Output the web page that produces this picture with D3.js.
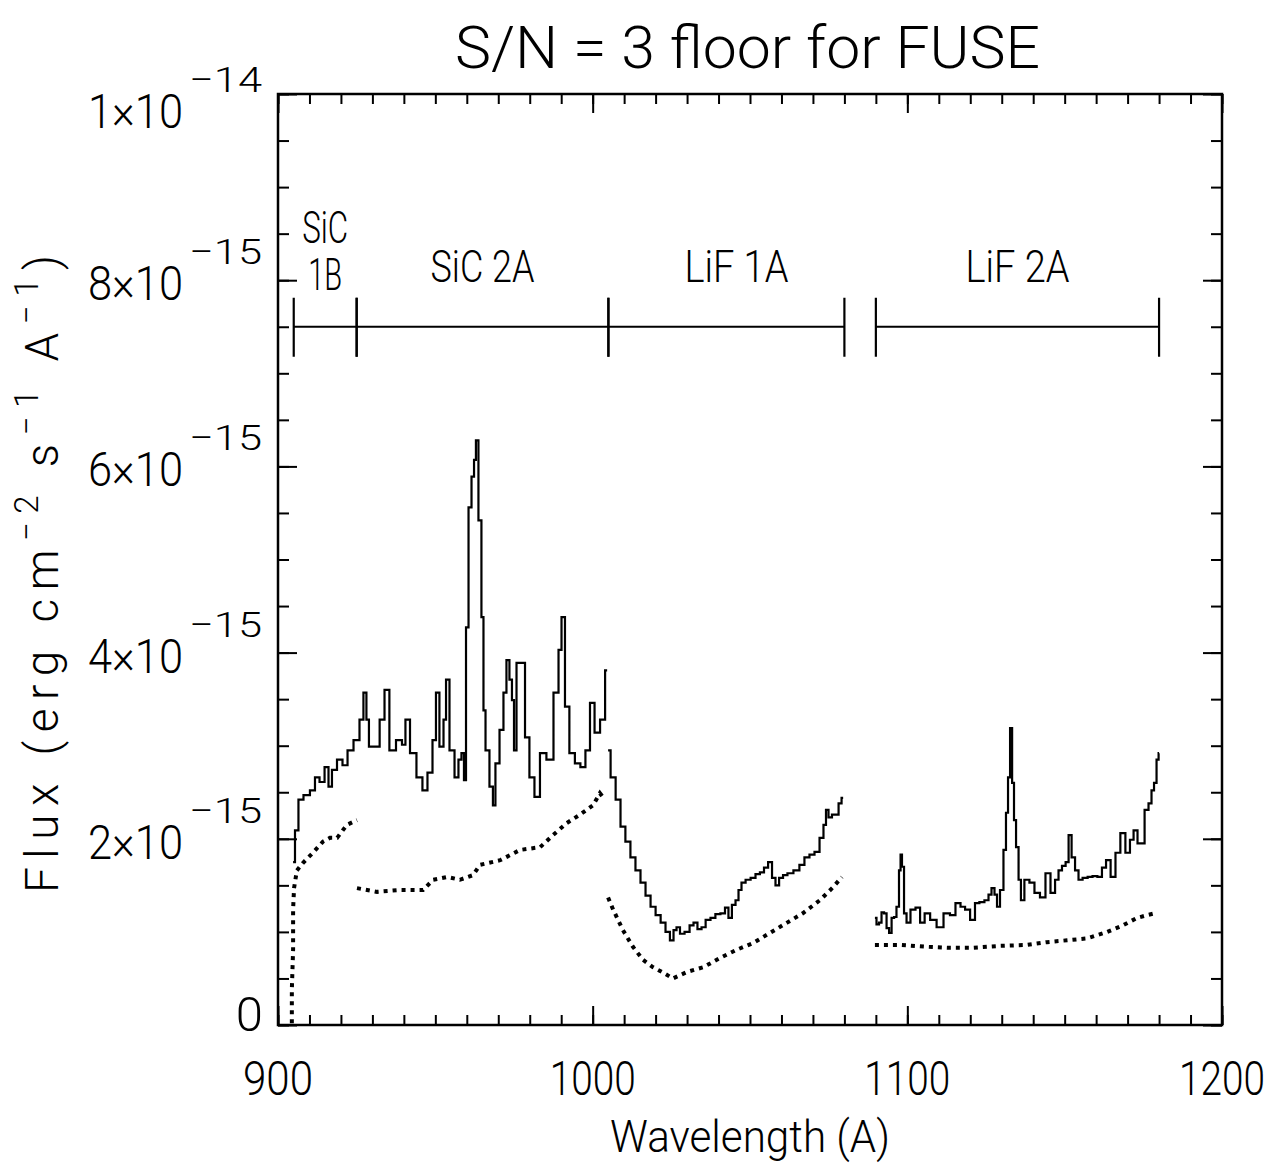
<!DOCTYPE html>
<html>
<head>
<meta charset="utf-8">
<script src="https://cdn.jsdelivr.net/npm/d3@7"></script>
<style>
  body { margin: 0; background: #fff; }
  svg text { font-family: Roboto, "Liberation Sans", sans-serif; font-weight: 300; fill: #000; }
</style>
</head>
<body>
<svg id="chart" width="1271" height="1165"></svg>
<script>
// Flux values are in units of 1e-15 erg cm^-2 s^-1 A^-1

// solid spectrum, SiC 1B + SiC 2A
var sicWave = [904.8, 906.0, 907.0, 909.2, 911.1, 912.4, 914.0, 915.6, 916.5, 917.8, 919.7, 921.3, 922.9, 925.1,
    926.7, 927.6, 928.6, 929.2, 931.5, 933.1, 934.6, 936.2, 938.8, 940.0, 941.0, 942.9, 945.1, 946.7, 948.3,
    949.9, 950.5, 952.1, 953.1, 953.7, 955.3, 956.9, 957.8, 958.8, 959.4, 960.1, 961.0, 962.0, 962.6, 963.2,
    964.2, 965.1, 965.5, 966.4, 968.0, 968.6, 969.6, 971.2, 972.1, 973.1, 974.0, 974.7, 975.3, 976.3, 977.9,
    979.1, 980.7, 982.3, 984.2, 986.4, 988.7, 989.6, 990.6, 991.8, 993.4, 995.3, 996.9, 998.5, 999.8, 1001.4,
    1003.3, 1004.6];
var sicFlux = [1.75, 2.09, 2.42, 2.47, 2.52, 2.66, 2.61, 2.77, 2.56, 2.74, 2.85, 2.79, 2.95, 3.06,
    3.28, 3.57, 3.28, 2.99, 2.99, 3.28, 3.60, 2.95, 3.06, 3.01, 3.28, 2.92, 2.66, 2.52, 2.71,
    3.06, 3.57, 2.99, 3.28, 3.71, 2.95, 2.66, 2.85, 2.92, 2.63, 4.27, 5.56, 5.89, 6.07, 6.28,
    5.42, 4.38, 3.38, 2.95, 2.56, 2.36, 2.81, 3.17, 3.57, 3.92, 3.71, 3.49, 2.95, 3.89, 3.89,
    3.09, 2.66, 2.45, 2.92, 2.85, 3.57, 4.03, 4.38, 3.42, 2.92, 2.81, 2.77, 2.95, 3.46, 3.14,
    3.28, 3.81];

// solid spectrum, LiF 1A
var lif1Wave = [1004.9, 1006.5, 1008.1, 1009.6, 1011.2, 1012.8, 1014.4, 1016.0, 1017.6, 1019.2, 1020.8, 1022.4,
    1023.9, 1025.2, 1026.2, 1027.1, 1028.4, 1030.0, 1031.6, 1032.5, 1034.1, 1035.1, 1036.7, 1038.2, 1039.8,
    1041.4, 1042.7, 1043.6, 1044.9, 1045.9, 1046.8, 1047.8, 1049.4, 1051.0, 1052.5, 1053.8, 1055.1, 1056.4,
    1057.6, 1058.6, 1059.9, 1061.1, 1062.7, 1064.9, 1066.5, 1068.1, 1069.7, 1071.3, 1072.9, 1073.8, 1074.5,
    1075.4, 1076.7, 1077.7, 1078.6, 1079.6];
var lif1Flux = [2.95, 2.66, 2.42, 2.13, 1.97, 1.80, 1.66, 1.53, 1.39, 1.27, 1.18, 1.10,
    1.00, 0.91, 1.02, 1.05, 0.98, 1.00, 1.07, 1.10, 1.03, 1.05, 1.13, 1.15, 1.19,
    1.20, 1.26, 1.15, 1.29, 1.34, 1.45, 1.53, 1.56, 1.58, 1.62, 1.64, 1.69, 1.75,
    1.58, 1.50, 1.58, 1.61, 1.63, 1.66, 1.72, 1.80, 1.83, 1.86, 2.01, 2.15, 2.31,
    2.23, 2.26, 2.26, 2.38, 2.44];

// solid spectrum, LiF 2A
var lif2Wave = [1089.7, 1090.7, 1091.3, 1092.3, 1092.9, 1093.9, 1094.5, 1095.5, 1096.1, 1097.0, 1097.7, 1098.0,
    1098.6, 1099.3, 1100.2, 1101.8, 1103.4, 1104.7, 1106.3, 1108.2, 1110.4, 1112.6, 1114.5, 1116.1, 1117.7,
    1119.0, 1120.9, 1122.1, 1123.7, 1125.3, 1126.3, 1127.2, 1128.2, 1128.8, 1130.1, 1131.0, 1131.7, 1132.3,
    1133.0, 1133.6, 1134.2, 1134.9, 1135.8, 1136.4, 1138.0, 1139.6, 1141.2, 1143.1, 1144.7, 1146.3, 1147.6,
    1148.5, 1149.8, 1150.8, 1151.7, 1152.7, 1153.9, 1154.9, 1156.5, 1158.1, 1159.6, 1161.2, 1162.5, 1163.8,
    1165.4, 1166.9, 1168.5, 1170.1, 1171.4, 1172.4, 1173.9, 1174.6, 1176.2, 1177.1, 1178.1, 1178.7, 1179.7,
    1180.0];
var lif2Flux = [1.15, 1.08, 1.10, 1.21, 1.20, 1.04, 0.99, 1.15, 1.16, 1.27, 1.66, 1.83,
    1.70, 1.20, 1.10, 1.24, 1.26, 1.10, 1.20, 1.13, 1.05, 1.20, 1.18, 1.31, 1.27,
    1.24, 1.13, 1.31, 1.32, 1.34, 1.40, 1.47, 1.40, 1.27, 1.45, 1.88, 2.28, 2.66,
    3.19, 2.60, 2.20, 1.91, 1.56, 1.34, 1.56, 1.53, 1.42, 1.37, 1.63, 1.42, 1.56,
    1.66, 1.71, 1.75, 2.04, 1.80, 1.66, 1.56, 1.58, 1.59, 1.60, 1.59, 1.69, 1.77,
    1.59, 1.85, 2.06, 1.85, 1.99, 2.09, 1.95, 1.95, 2.31, 2.38, 2.52, 2.60, 2.85,
    2.92];

// S/N = 3 floor (dotted), one list per channel
var floor1BWave = [904.4, 904.4, 904.8, 904.8, 905.1, 906.0, 907.9, 911.1, 914.3, 916.5, 918.8, 921.9, 925.1];
var floor1BFlux = [0.02, 0.38, 0.81, 1.24, 1.47, 1.66, 1.74, 1.85, 1.97, 2.01, 2.01, 2.15, 2.20];
var floor2AWave = [925.1, 931.5, 938.8, 946.1, 949.3, 953.7, 957.8, 962.0, 964.2, 970.6, 976.9, 983.3, 987.4,
    991.8, 996.0, 1000.1, 1002.3, 1003.9];
var floor2AFlux = [1.47, 1.43, 1.45, 1.45, 1.56, 1.59, 1.56, 1.61, 1.72, 1.77, 1.88, 1.91, 2.04,
    2.17, 2.26, 2.36, 2.49, 2.42];
var floorL1Wave = [1004.9, 1006.5, 1009.6, 1012.8, 1016.0, 1019.2, 1022.0, 1025.5, 1030.0, 1035.1, 1040.5, 1045.9,
    1051.0, 1056.4, 1061.8, 1066.8, 1072.2, 1076.4, 1079.2];
var floorL1Flux = [1.37, 1.24, 1.02, 0.84, 0.70, 0.62, 0.57, 0.50, 0.57, 0.62, 0.72, 0.81,
    0.88, 0.99, 1.10, 1.20, 1.34, 1.48, 1.59];
var floorL2Wave = [1089.7, 1097.7, 1106.3, 1112.6, 1120.9, 1129.5, 1138.0, 1144.4, 1150.8, 1157.1, 1163.5, 1168.5,
    1173.0, 1176.2, 1178.7];
var floorL2Flux = [0.86, 0.86, 0.84, 0.83, 0.83, 0.85, 0.86, 0.89, 0.91, 0.93, 1.00, 1.07,
    1.15, 1.18, 1.20];

// detector channel ranges (Angstrom)
var segNames = ["SiC 1B", "SiC 2A", "LiF 1A", "LiF 2A"];
var segStart = [905, 925, 1005, 1090];
var segEnd = [925, 1005, 1080, 1180];
var segLevel = 7.5;

// axis ticks
var xMajor = [900, 1000, 1100, 1200];
var xMinor = d3.range(900, 1201, 10);
var yMajor = [0, 2, 4, 6, 8, 10];
var yMinor = d3.range(0, 10.01, 0.5);
var yMant = ["0", "2\u00d710", "4\u00d710", "6\u00d710", "8\u00d710", "1\u00d710"];
var yExp = ["", "\u221215", "\u221215", "\u221215", "\u221215", "\u221214"];

var svg = d3.select("#chart");
// plot box edges (note: "top" is reserved on window)
var plotLeft = 278, plotRight = 1222, plotTop = 94, plotBottom = 1025;

var x = d3.scaleLinear().domain([900, 1200]).range([plotLeft, plotRight]);
var y = d3.scaleLinear().domain([0, 10]).range([plotBottom, plotTop]);

function zip(w, f) {
    return w.map(function (d, i) { return [d, f[i]]; });
}

// frame
svg.append("rect")
    .attr("x", plotLeft).attr("y", plotTop)
    .attr("width", plotRight - plotLeft).attr("height", plotBottom - plotTop)
    .attr("fill", "none").attr("stroke", "#000").attr("stroke-width", 2.5);

// ticks, all pointing inward
function ticks(gen, sc, vals, size, transform) {
    svg.append("g")
        .attr("transform", transform)
        .call(gen(sc).tickValues(vals).tickSize(size).tickSizeOuter(0).tickFormat(""))
        .call(function (g) {
            g.select(".domain").remove();
            g.selectAll("line").attr("stroke", "#000").attr("stroke-width", 2);
        });
}
ticks(d3.axisTop, x, xMinor, 10, "translate(0," + plotBottom + ")");
ticks(d3.axisTop, x, xMajor, 19, "translate(0," + plotBottom + ")");
ticks(d3.axisBottom, x, xMinor, 10, "translate(0," + plotTop + ")");
ticks(d3.axisBottom, x, xMajor, 19, "translate(0," + plotTop + ")");
ticks(d3.axisRight, y, yMinor, 11, "translate(" + plotLeft + ",0)");
ticks(d3.axisRight, y, yMajor, 19, "translate(" + plotLeft + ",0)");
ticks(d3.axisLeft, y, yMinor, 11, "translate(" + plotRight + ",0)");
ticks(d3.axisLeft, y, yMajor, 19, "translate(" + plotRight + ",0)");

// x tick labels
svg.append("g").selectAll("text")
    .data(xMajor)
    .enter().append("text")
    .attr("x", function (d) { return x(d); })
    .attr("y", 1095)
    .attr("text-anchor", "middle")
    .attr("font-size", 49)
    .attr("textLength", function (d) { return d < 1000 ? 70 : 86; })
    .attr("lengthAdjust", "spacingAndGlyphs")
    .text(function (d) { return d; });

// y tick labels: mantissa x 10 with raised exponent
var yl = svg.append("g");
yMajor.forEach(function (v, i) {
    // the plot sets the zero label a bit high and the top label a bit low
    var yy = y(v) + (i === 0 ? 6 : (i === yMajor.length - 1 ? 34 : 20));
    if (yExp[i] === "") {
        yl.append("text").attr("x", 263).attr("y", yy)
            .attr("text-anchor", "end").attr("font-size", 49)
            .text(yMant[i]);
        return;
    }
    yl.append("text").attr("x", 88).attr("y", yy)
        .attr("font-size", 49)
        .attr("textLength", 95).attr("lengthAdjust", "spacingAndGlyphs")
        .text(yMant[i]);
    yl.append("text").attr("x", 189).attr("y", yy - 36)
        .attr("font-size", 35)
        .attr("textLength", 73).attr("lengthAdjust", "spacingAndGlyphs")
        .text(yExp[i]);
});

// title and axis titles
svg.append("text")
    .attr("x", 455).attr("y", 68)
    .attr("font-size", 60)
    .attr("textLength", 585).attr("lengthAdjust", "spacingAndGlyphs")
    .text("S/N = 3 floor for FUSE");

svg.append("text")
    .attr("x", 610).attr("y", 1152)
    .attr("font-size", 45)
    .attr("textLength", 280).attr("lengthAdjust", "spacingAndGlyphs")
    .text("Wavelength (A)");

var yt = svg.append("text")
    .attr("transform", "translate(58,893) rotate(-90)")
    .attr("font-size", 46)
    .attr("textLength", 638).attr("lengthAdjust", "spacing");
yt.append("tspan").text("Flux (erg cm");
yt.append("tspan").attr("dy", -20).attr("font-size", 33).text("\u22122");
yt.append("tspan").attr("dy", 20).text(" s");
yt.append("tspan").attr("dy", -20).attr("font-size", 33).text("\u22121");
yt.append("tspan").attr("dy", 20).text(" A");
yt.append("tspan").attr("dy", -20).attr("font-size", 33).text("\u22121");
yt.append("tspan").attr("dy", 20).text(")");

// channel range bars
var segs = svg.append("g");
segNames.forEach(function (name, i) {
    var x0 = x(segStart[i]), x1 = x(segEnd[i]), yy = y(segLevel);
    segs.append("line").attr("x1", x0).attr("x2", x1).attr("y1", yy).attr("y2", yy)
        .attr("stroke", "#000").attr("stroke-width", 2.2);
    [x0, x1].forEach(function (xx) {
        segs.append("line").attr("x1", xx).attr("x2", xx).attr("y1", yy - 29).attr("y2", yy + 30)
            .attr("stroke", "#000").attr("stroke-width", 2.2);
    });
    var cx = (x0 + x1) / 2;
    if (i === 0) {
        segs.append("text").attr("x", cx).attr("y", 243).attr("text-anchor", "middle")
            .attr("font-size", 44).attr("textLength", 46).attr("lengthAdjust", "spacingAndGlyphs").text("SiC");
        segs.append("text").attr("x", cx).attr("y", 290).attr("text-anchor", "middle")
            .attr("font-size", 44).attr("textLength", 34).attr("lengthAdjust", "spacingAndGlyphs").text("1B");
    } else {
        segs.append("text").attr("x", cx + (i === 2 ? 10 : 0)).attr("y", 282).attr("text-anchor", "middle")
            .attr("font-size", 44).attr("textLength", 104).attr("lengthAdjust", "spacingAndGlyphs").text(name);
    }
});

// spectra
var line = d3.line()
    .x(function (d) { return x(d[0]); })
    .y(function (d) { return y(d[1]); })
    .curve(d3.curveStep);

[[sicWave, sicFlux], [lif1Wave, lif1Flux], [lif2Wave, lif2Flux]].forEach(function (s) {
    svg.append("path")
        .datum(zip(s[0], s[1]))
        .attr("d", line)
        .attr("fill", "none").attr("stroke", "#000").attr("stroke-width", 2.2);
});

var floorLine = d3.line()
    .x(function (d) { return x(d[0]); })
    .y(function (d) { return y(d[1]); });

[[floor1BWave, floor1BFlux], [floor2AWave, floor2AFlux], [floorL1Wave, floorL1Flux], [floorL2Wave, floorL2Flux]]
    .forEach(function (s) {
        svg.append("path")
            .datum(zip(s[0], s[1]))
            .attr("d", floorLine)
            .attr("fill", "none").attr("stroke", "#000")
            .attr("stroke-width", 4).attr("stroke-dasharray", "4,5");
    });
</script>
</body>
</html>
